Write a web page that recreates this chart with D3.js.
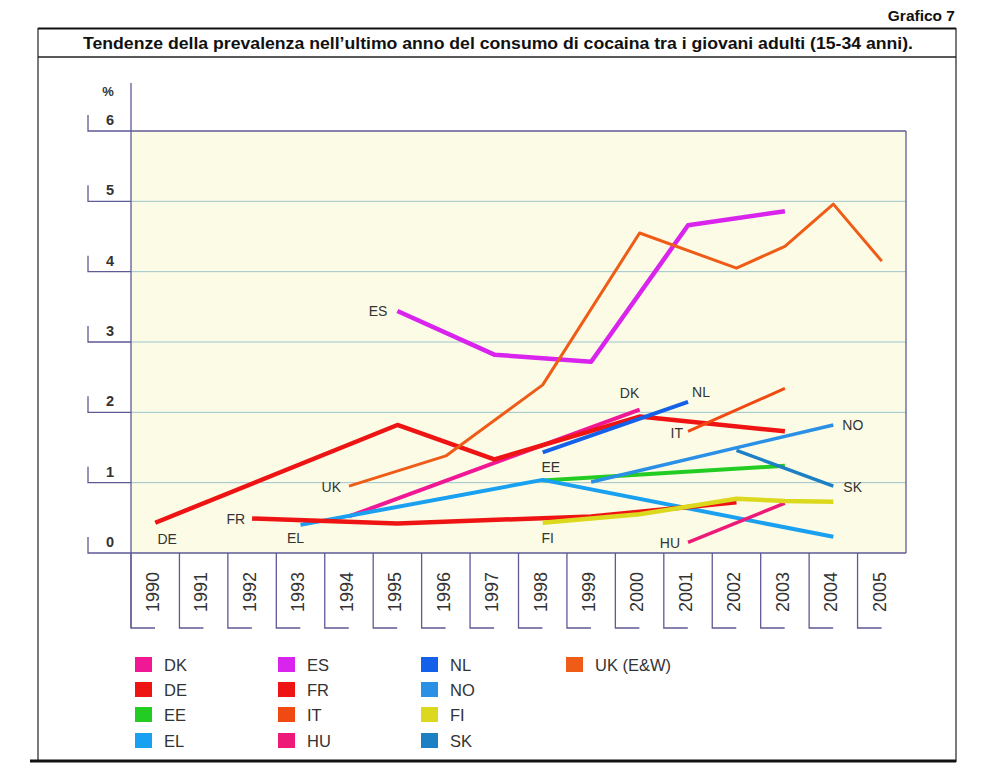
<!DOCTYPE html>
<html><head><meta charset="utf-8">
<script src="https://cdn.jsdelivr.net/npm/d3@7"></script>
<style>body{margin:0;background:#fff}svg{display:block}text{font-family:"Liberation Sans",Arial,sans-serif}</style>
</head><body>
<svg id="c" width="1008" height="768"></svg>
<script>
const years = ["1990","1991","1992","1993","1994","1995","1996","1997","1998","1999","2000","2001","2002","2003","2004","2005"];
const yTicks = [0,1,2,3,4,5,6];
const titleText = "Tendenze della prevalenza nell\u2019ultimo anno del consumo di cocaina tra i giovani adulti (15-34 anni).";
const chartNo = "Grafico 7";

const seriesNames = ["DK","DE","EE","EL","ES","FR","IT","HU","NL","NO","FI","SK","UK (E&W)"];
const seriesColors = ["#f01894","#ee1414","#22cc22","#1aa0f0","#d824ec","#ee1414","#f04a12","#ee1a78","#1560e8","#2a90e6","#dcd81e","#1e80c4","#ee5c18"];
const lineLabels = ["DK","DE","EE","EL","ES","FR","IT","HU","NL","NO","FI","SK","UK"];

const DK = [["1994",0.52],["2000",2.04]];
const DE = [["1990",0.43],["1995",1.82],["1997",1.33],["2000",1.94],["2003",1.73]];
const EE = [["1998",1.03],["2003",1.24]];
const EL = [["1993",0.40],["1998",1.04],["2004",0.23]];
const ES = [["1995",3.44],["1997",2.82],["1999",2.72],["2001",4.66],["2003",4.86]];
const FR = [["1992",0.49],["1995",0.42],["1999",0.52],["2002",0.72]];
const IT = [["2001",1.73],["2003",2.34]];
const HU = [["2001",0.15],["2003",0.71]];
const NL = [["1998",1.43],["2001",2.15]];
const NO = [["1999",1.01],["2004",1.82]];
const FI = [["1998",0.43],["2000",0.55],["2002",0.77],["2003",0.74],["2004",0.73]];
const SK = [["2002",1.46],["2004",0.95]];
const UK = [["1994",0.95],["1996",1.38],["1998",2.39],["2000",4.55],["2002",4.05],["2003",4.36],["2004",4.96],["2005",4.15]];
const seriesData = [DK,DE,EE,EL,ES,FR,IT,HU,NL,NO,FI,SK,UK];

const svg = d3.select("#c");
const L = 131, R = 906, T = 131, B = 553;
const x = d3.scaleBand().domain(years).range([L, R]);
const y = d3.scaleLinear().domain([0, 6]).range([B, T]);
const xc = d => x(d) + x.bandwidth()/2;
const axisCol = "#5e5a96";

// frame
svg.append("line").attr("x1",38).attr("x2",956).attr("y1",28.5).attr("y2",28.5).attr("stroke","#111").attr("stroke-width",2);
svg.append("line").attr("x1",38).attr("x2",956).attr("y1",57).attr("y2",57).attr("stroke","#222").attr("stroke-width",1.3);
svg.append("line").attr("x1",38).attr("x2",38).attr("y1",28).attr("y2",762).attr("stroke","#222").attr("stroke-width",1.2);
svg.append("line").attr("x1",956).attr("x2",956).attr("y1",28).attr("y2",762).attr("stroke","#222").attr("stroke-width",1.2);
svg.append("line").attr("x1",30).attr("x2",956).attr("y1",761).attr("y2",761).attr("stroke","#111").attr("stroke-width",3);

svg.append("text").attr("x",955).attr("y",21).attr("text-anchor","end").attr("font-size",15.5).attr("font-weight","bold").attr("fill","#111").text(chartNo);
svg.append("text").attr("x",498).attr("y",49).attr("text-anchor","middle").attr("font-size",17).attr("font-weight","bold").attr("fill","#111")
  .attr("textLength",830).attr("lengthAdjust","spacingAndGlyphs").text(titleText);

// plot background
svg.append("rect").attr("x",L).attr("y",T).attr("width",R-L).attr("height",B-T).attr("fill","#fcfce6");

// gridlines
svg.append("g").selectAll("line").data(yTicks.filter(v=>v>0 && v<6)).join("line")
  .attr("x1",L).attr("x2",R).attr("y1",d=>y(d)).attr("y2",d=>y(d))
  .attr("stroke","#9cc3cc").attr("stroke-width",1);

// plot border
svg.append("line").attr("x1",L).attr("x2",R).attr("y1",T).attr("y2",T).attr("stroke",axisCol).attr("stroke-width",1.3);
svg.append("line").attr("x1",R).attr("x2",R).attr("y1",T).attr("y2",B).attr("stroke",axisCol).attr("stroke-width",1.3);
svg.append("line").attr("x1",L).attr("x2",R).attr("y1",B).attr("y2",B).attr("stroke",axisCol).attr("stroke-width",1.3);
svg.append("line").attr("x1",L).attr("x2",L).attr("y1",83).attr("y2",628).attr("stroke",axisCol).attr("stroke-width",1.3);

// y ticks (L shape)
const yt = svg.append("g").selectAll("g").data(yTicks).join("g").attr("transform",d=>`translate(0,${y(d)})`);
yt.append("path").attr("d","M88,-16V0H131").attr("fill","none").attr("stroke",axisCol).attr("stroke-width",1.3);
yt.append("text").attr("x",110).attr("y",-6).attr("text-anchor","middle").attr("font-size",14.5).attr("font-weight","bold").attr("fill","#333").text(d=>d);
svg.append("text").attr("x",108).attr("y",96).attr("text-anchor","middle").attr("font-size",13).attr("font-weight","bold").attr("fill","#333").text("%");

// x ticks
const xt = svg.append("g").selectAll("g").data(years).join("g").attr("transform",d=>`translate(${x(d)},0)`);
xt.append("path").attr("d",`M0,${B}V628H24`).attr("fill","none").attr("stroke",axisCol).attr("stroke-width",1.3);
xt.append("text").attr("transform","translate(28,592) rotate(-90)").attr("text-anchor","middle").attr("font-size",18).attr("fill","#333").text(d=>d);

// lines
const line = d3.line().x(d=>xc(d[0])).y(d=>y(d[1]));
const widths = [4,4.5,4,4,4.5,4.5,3,3.5,4,3.5,4.5,3.5,3];
svg.append("g").selectAll("path").data(seriesData).join("path")
  .attr("d",line).attr("fill","none").attr("stroke",(d,i)=>seriesColors[i])
  .attr("stroke-width",(d,i)=>widths[i]).attr("stroke-linejoin","round").attr("stroke-linecap","butt");

// line labels: [series index, point index, dx, dy, anchor]
const labelPos = [
  [0,1,-10,-12,"middle"],  // DK
  [1,0,12,21,"middle"],    // DE
  [2,0,8,-9,"middle"],     // EE
  [3,0,-5,18,"middle"],    // EL
  [4,0,-10,5,"end"],       // ES
  [5,0,-7,5,"end"],        // FR
  [6,0,-5,7,"end"],        // IT
  [7,0,-8,6,"end"],        // HU
  [8,1,13,-5,"middle"],    // NL
  [9,1,9,5,"start"],       // NO
  [10,0,5,20,"middle"],    // FI
  [11,1,10,6,"start"],     // SK
  [12,0,-8,6,"end"]        // UK
];
svg.append("g").selectAll("text").data(labelPos).join("text")
  .attr("x",d=>xc(seriesData[d[0]][d[1]][0])+d[2])
  .attr("y",d=>y(seriesData[d[0]][d[1]][1])+d[3])
  .attr("text-anchor",d=>d[4]).attr("font-size",14).attr("fill","#333")
  .text(d=>lineLabels[d[0]]);

// legend
const legendOrder = [0,1,2,3,4,5,6,7,8,9,10,11,12];
const colX = [135,278,421,566];
const rowY = [657,682,707,733];
const lg = svg.append("g").selectAll("g").data(legendOrder).join("g")
  .attr("transform",(d,i)=>`translate(${colX[Math.floor(i/4)]},${rowY[i%4]})`);
lg.append("rect").attr("width",17).attr("height",15).attr("fill",d=>seriesColors[d]);
lg.append("text").attr("x",29).attr("y",13.5).attr("font-size",16.5).attr("fill","#333").text(d=>seriesNames[d]);
</script>
</body></html>
